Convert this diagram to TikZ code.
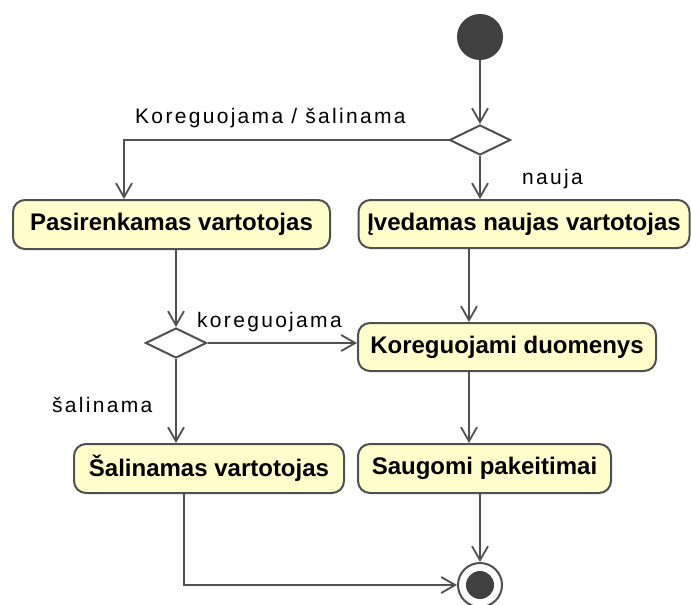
\documentclass[tikz,border=0pt]{standalone}
\usepackage{fontspec}
\setmainfont{Liberation Sans}
\newfontfamily\lblfont[LetterSpace=11]{Liberation Sans}
\usetikzlibrary{arrows.meta,shapes.geometric}
\definecolor{actfill}{HTML}{FFFFCC}
\definecolor{edge}{HTML}{505050}
\definecolor{dot}{HTML}{404040}
\tikzset{
  action/.style={draw=edge, line width=2pt, fill=actfill, rounded corners=12pt,
    inner sep=0pt, font=\fontsize{24}{28}\selectfont\bfseries},
  choice/.style={draw=edge, line width=2pt, fill=white, diamond, inner sep=0pt,
    minimum width=61pt, minimum height=30pt, aspect=2},
  flow/.style={draw=edge, line width=1.8pt, -{Straight Barb[length=14pt,width=16pt,line width=1.8pt]}},
  plain/.style={draw=edge, line width=1.8pt},
  guard/.style={font=\fontsize{21}{24}\lblfont, anchor=base west, inner sep=0pt},
}
\begin{document}
\begin{tikzpicture}[x=1pt,y=-1pt]
  \useasboundingbox (0,0) rectangle (691,605);

  % initial and final nodes
  \node[circle, fill=dot, minimum size=46pt, inner sep=0pt] (start) at (480,37) {};
  \node[circle, draw=edge, line width=2pt, fill=white, minimum size=44pt, inner sep=0pt] (stop) at (480,585) {};
  \fill[dot] (stop.center) circle (14pt);

  % decisions
  \node[choice] (d1) at (480,140) {};
  \node[choice] (d2) at (176,343) {};

  % actions
  \node[action, minimum width=317pt, minimum height=49pt] (pick) at (171.5,224.5) {Pasirenkamas vartotojas};
  \node[action, minimum width=331pt, minimum height=48pt] (new) at (524,224) {Įvedamas naujas vartotojas};
  \node[action, minimum width=298pt, minimum height=48pt] (edit) at (507,347) {Koreguojami duomenys};
  \node[action, minimum width=253pt, minimum height=49pt] (save) at (484.5,468.5) {Saugomi pakeitimai};
  \node[action, minimum width=270pt, minimum height=49pt] (del) at (209,468.5) {Šalinamas vartotojas};

  % flows
  \draw[flow] (start) -- (d1.north);
  \draw[flow] (d1.west) -| (pick.north -| 124,0);
  \draw[flow] (d1.south) -- (new.north -| d1);
  \draw[flow] (pick.south -| d2) -- (d2.north);
  \draw[flow] (d2.east) -- (edit.west |- d2);
  \draw[flow] (d2.south) -- (del.north -| d2);
  \draw[flow] (new.south -| 469,0) -- (edit.north -| 469,0);
  \draw[flow] (edit.south -| 469,0) -- (save.north -| 469,0);
  \draw[flow] (save.south -| stop) -- (stop.north);
  \draw[flow] (del.south -| 184,0) |- (stop.west);

  % guards
  \node[guard] (g1) at (135,123) {Koreguojama / šalinama};
  \node[guard] (g2) at (522,184) {nauja};
  \node[guard] (g3) at (197,327) {koreguojama};
  \node[guard] (g4) at (52,412) {šalinama};
\end{tikzpicture}
\end{document}
